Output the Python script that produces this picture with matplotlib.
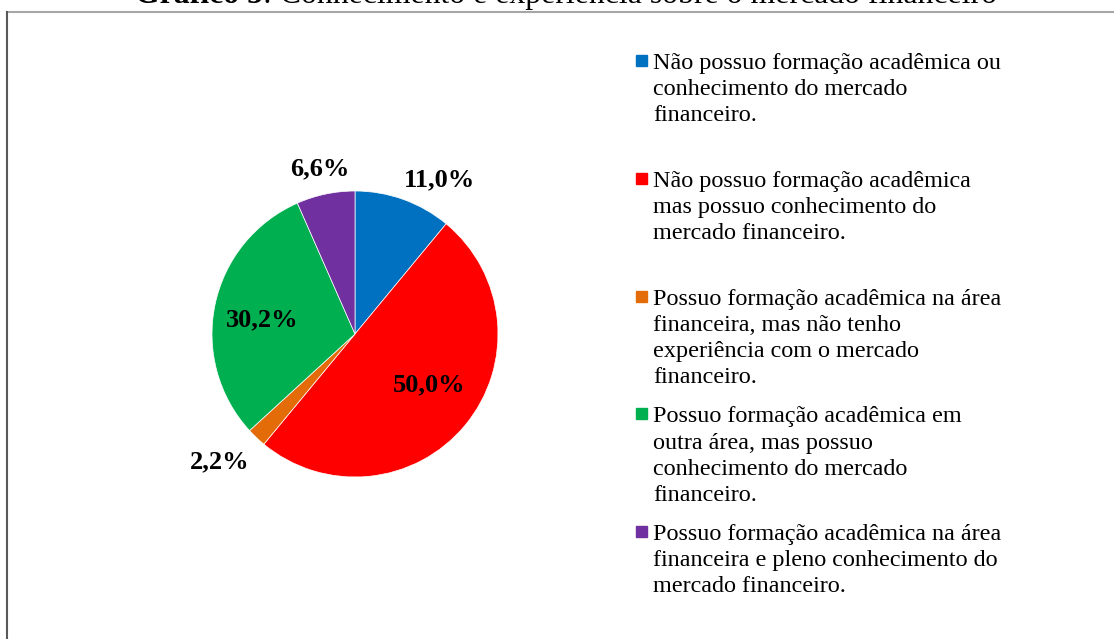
import numpy as np
import matplotlib.pyplot as plt
from matplotlib.patches import Rectangle
from matplotlib.lines import Line2D

plt.rcParams['font.family'] = ['Liberation Serif', 'DejaVu Serif']

# data
categories = [
    'Não possuo formação acadêmica ou\nconhecimento do mercado\nfinanceiro.',
    'Não possuo formação acadêmica\nmas possuo conhecimento do\nmercado financeiro.',
    'Possuo formação acadêmica na área\nfinanceira, mas não tenho\nexperiência com o mercado\nfinanceiro.',
    'Possuo formação acadêmica em\noutra área, mas possuo\nconhecimento do mercado\nfinanceiro.',
    'Possuo formação acadêmica na área\nfinanceira e pleno conhecimento do\nmercado financeiro.',
]
values = [11.0, 50.0, 2.2, 30.2, 6.6]
labels = ['11,0%', '50,0%', '2,2%', '30,2%', '6,6%']
colors = ['#0070c0', '#ff0000', '#e36c09', '#00b050', '#7030a0']

# label placement (radius factor, angle nudge in degrees)
lab_r = [1.23, 0.63, 1.30, 0.66, 1.18]
lab_da = [-9, 5, -3, 3, 0]

W, H = 1114, 639
fig = plt.figure(figsize=(W / 100, H / 100), dpi=100)

# frame lines
fig.add_artist(Line2D([7 / W, 1], [1 - 12 / H, 1 - 12 / H], color='#a6a6a6', lw=1.5))
fig.add_artist(Line2D([7 / W, 7 / W], [0, 1 - 12 / H], color='#595959', lw=1.5))

# title (clipped at the top like the source)
t1 = fig.text(135 / W, 1 - 3 / H, 'Gráfico 5', fontsize=22.9, fontweight='bold',
              ha='left', va='baseline')
fig.add_artist(plt.Annotation(': Conhecimento e experiência sobre o mercado financeiro',
                              xy=(1, 0), xycoords=t1, va='bottom', ha='left',
                              fontsize=22.9, annotation_clip=False))

# pie
cx, cy, r = 355, 334, 143
ax = fig.add_axes([(cx - r) / W, (H - cy - r) / H, 2 * r / W, 2 * r / H])
wedges, _ = ax.pie(values, colors=colors, startangle=90, counterclock=False,
                   radius=1, wedgeprops=dict(linewidth=0.5, edgecolor='white'))
ax.set_xlim(-1, 1)
ax.set_ylim(-1, 1)
ax.set_aspect('equal')
ax.axis('off')

for w, lab, rf, da in zip(wedges, labels, lab_r, lab_da):
    ang = np.deg2rad((w.theta1 + w.theta2) / 2 + da)
    ax.text(rf * np.cos(ang), rf * np.sin(ang), lab, ha='center', va='center',
            fontsize=19, fontweight='bold', clip_on=False)

# legend
sq = 11
base0 = 67
step = 117.8
for i, (cat, col) in enumerate(zip(categories, colors)):
    yb = base0 + i * step
    fig.add_artist(Rectangle((636 / W, 1 - (yb - 1) / H), sq / W, sq / H,
                             color=col, transform=fig.transFigure))
    fig.text(653 / W, 1 - (yb - 14) / H, cat, fontsize=17.4, ha='left', va='top',
             linespacing=1.32)

fig.savefig('out.png', dpi=100)
